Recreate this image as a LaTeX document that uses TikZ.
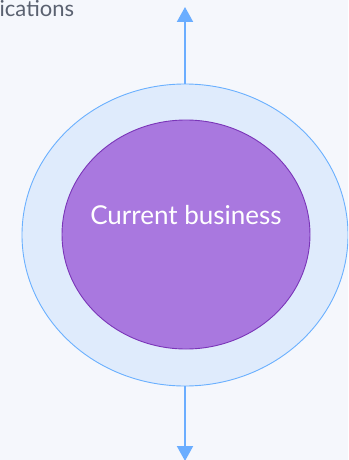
\documentclass[tikz,border=0pt]{standalone}
\usepackage{fontspec}
\setmainfont{Lato}
\usetikzlibrary{shapes.geometric,arrows.meta}
\definecolor{bgc}{HTML}{F5F7FC}
\definecolor{ringfill}{HTML}{DFEBFC}
\definecolor{ringline}{HTML}{6AB0FF}
\definecolor{corefill}{HTML}{A978DF}
\definecolor{coreline}{HTML}{7A35B8}
\definecolor{arrowc}{HTML}{6AADFF}
\definecolor{greytext}{HTML}{5A6170}
\tikzset{
  ring/.style={ellipse, draw=ringline, fill=ringfill, line width=0.9pt, inner sep=0pt},
  core/.style={ellipse, draw=coreline, fill=corefill, line width=0.9pt, inner sep=0pt},
  flow/.style={draw=arrowc, line width=2pt, -{Triangle[width=16pt,length=15pt]}},
}
\begin{document}
\begin{tikzpicture}[x=1pt,y=-1pt]
  \useasboundingbox (0,0) rectangle (348,460);
  \fill[bgc] (0,0) rectangle (348,460);
  \begin{scope}
    \clip (0,0) rectangle (348,460);
    \node[ring, minimum width=326pt, minimum height=302pt] (outer) at (185,235) {};
    \node[core, minimum width=248pt, minimum height=229pt] (inner) at (186,234.5) {};
    \node[text=white, font=\fontsize{26}{30}\selectfont, anchor=base] (label) at (186,224) {Current business};
    \coordinate (uptip) at (185,7);
    \coordinate (downtip) at (185,461);
    \draw[flow] (outer.north) -- (uptip);
    \draw[flow] (outer.south) -- (downtip);
    \node[text=greytext, font=\fontsize{22}{26}\selectfont, anchor=base west, inner sep=0pt] (topnote) at (-0.5,17) {ications};
  \end{scope}
\end{tikzpicture}
\end{document}
